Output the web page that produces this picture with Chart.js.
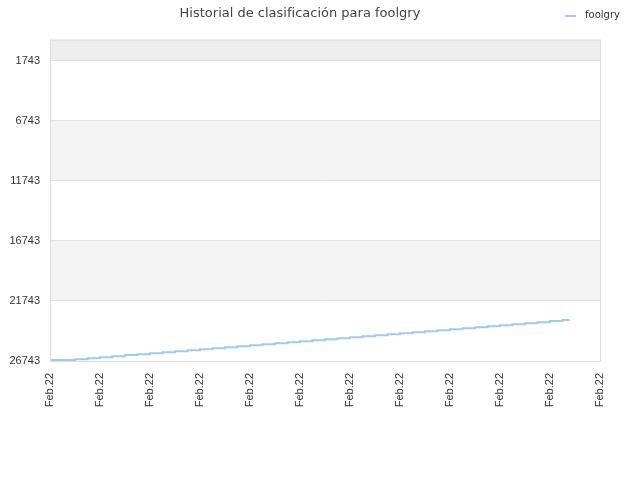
<!DOCTYPE html>
<html lang="es">
<head>
  <meta charset="UTF-8">
  <title>Historial de clasificación para foolgry</title>
  <script src="https://cdn.jsdelivr.net/npm/chart.js"></script>
  <style>
    body { margin: 0; background: #fff; }
  </style>
</head>
<body>
  <canvas id="grafico" width="640" height="480"></canvas>

  <script>
    const titulo = 'Historial de clasificación para foolgry';
    const jugador = 'foolgry';
    const etiquetaFecha = 'Feb.22';
    // posición (en pasos) de cada punto sobre el eje x
    const pasos = [0, 1, 2, 3, 4, 5, 6, 7, 8, 9, 10, 11, 12, 13, 14, 15, 16, 17, 18, 19, 20,
      21, 22, 23, 24, 25, 26, 27, 28, 29, 30, 31, 32, 33, 34, 35, 36, 37, 38, 39, 40, 41, 41.5];
    const puestos = [26660, 26660, 26605, 26520, 26440, 26355, 26245, 26190, 26105, 26020, 25935,
      25855, 25770, 25685, 25600, 25520, 25435, 25350, 25265, 25185, 25100, 25015, 24930,
      24850, 24765, 24680, 24600, 24515, 24430, 24345, 24265, 24180, 24095, 24010, 23930,
      23845, 23760, 23675, 23595, 23510, 23425, 23340, 23260];
    const ticksY = [1743, 6743, 11743, 16743, 21743, 26743];
    const bandas = [[0, 1743, '#eeeeee'], [6743, 11743, '#f3f3f3'], [16743, 21743, '#f3f3f3']];

    const fondo = {
      id: 'fondo',
      beforeDraw(chart) {
        const { ctx, chartArea: a, scales: { y } } = chart;
        ctx.save();
        bandas.forEach(([d, h, c]) => {
          const y1 = y.getPixelForValue(d), y2 = y.getPixelForValue(h);
          ctx.fillStyle = c;
          ctx.fillRect(a.left, Math.min(y1, y2), a.right - a.left, Math.abs(y2 - y1));
        });
        ctx.restore();
      },
      afterDraw(chart) {
        const { ctx, chartArea: a } = chart;
        ctx.save();
        ctx.strokeStyle = '#dddddd';
        ctx.lineWidth = 1;
        ctx.strokeRect(a.left + 0.5, a.top + 0.5, a.right - a.left, a.bottom - a.top);
        // leyenda
        ctx.strokeStyle = '#9fcbf3';
        ctx.lineWidth = 2;
        ctx.beginPath();
        ctx.moveTo(565, 16);
        ctx.lineTo(576, 16);
        ctx.stroke();
        ctx.fillStyle = '#333';
        ctx.font = '10px "DejaVu Sans"';
        ctx.textBaseline = 'middle';
        ctx.fillText(jugador, 585, 15.5);
        ctx.restore();
      }
    };

    new Chart(document.getElementById('grafico'), {
      type: 'line',
      data: {
        datasets: [{
          label: jugador,
          data: pasos.map((p, i) => ({ x: p, y: puestos[i] })),
          borderColor: '#9fcbf3',
          borderWidth: 2,
          stepped: true,
          pointRadius: 0,
          fill: false
        }]
      },
      options: {
        responsive: false,
        animation: false,
        devicePixelRatio: 1,
        layout: { padding: { left: 0, right: 40, top: 0, bottom: 0 } },
        plugins: {
          legend: { display: false },
          tooltip: { enabled: false },
          title: {
            display: true,
            text: titulo,
            color: '#444',
            font: { family: 'DejaVu Sans', size: 13, weight: 'normal' },
            padding: { top: 6, bottom: 18 }
          }
        },
        scales: {
          x: {
            type: 'linear',
            min: 0,
            max: 44,
            afterFit(s) { s.height = 119; },
            grid: { display: false },
            border: { color: '#dddddd' },
            ticks: {
              stepSize: 4,
              autoSkip: false,
              minRotation: 90,
              maxRotation: 90,
              padding: 4,
              color: '#333',
              font: { family: 'Liberation Sans', size: 11 },
              callback: () => etiquetaFecha
            }
          },
          y: {
            reverse: true,
            min: 0,
            max: 26743,
            afterFit(s) { s.width = 50; },
            afterBuildTicks(s) { s.ticks = ticksY.map(v => ({ value: v })); },
            grid: { color: '#e0e0e0', drawTicks: false },
            border: { color: '#dddddd' },
            ticks: {
              padding: 10,
              color: '#333',
              font: { family: 'Liberation Sans', size: 11 },
              callback: v => String(v)
            }
          }
        }
      },
      plugins: [fondo]
    });
  </script>
</body>
</html>
